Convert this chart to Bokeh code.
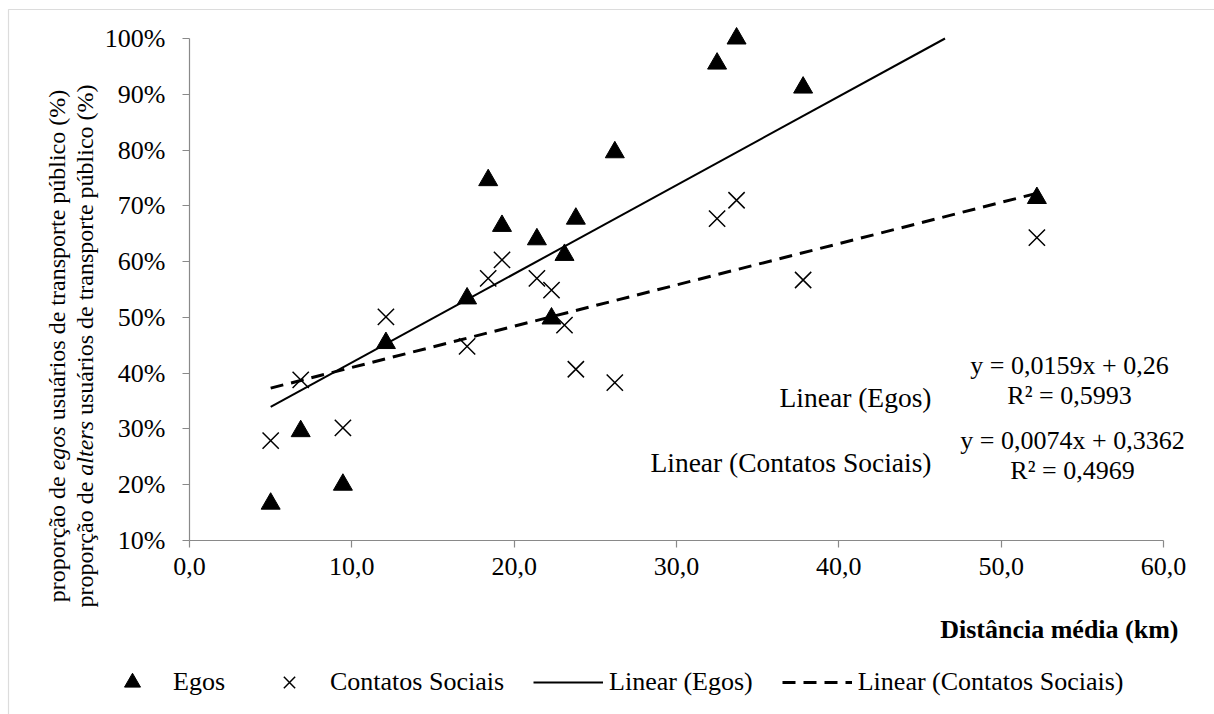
import math
from bokeh.plotting import figure
from bokeh.models import Range1d, FixedTicker, Label, Legend, LegendItem, BoxAnnotation
from bokeh.embed import file_html
from bokeh.resources import INLINE

# ---------------- data ----------------
distancia = [5.0, 6.85, 9.45, 12.1, 17.1, 18.4, 19.25, 21.4, 22.3, 23.1, 23.8, 26.2, 32.5, 33.7, 37.8, 52.2]
egos = [16.6, 29.6, 20.0, 45.4, 53.4, 74.6, 66.4, 64.0, 49.8, 61.2, 67.7, 79.6, 95.5, 100.0, 91.2, 71.4]
contatos = [27.9, 38.8, 30.2, 50.1, 44.8, 57.0, 60.3, 57.0, 54.9, 48.6, 40.7, 38.3, 67.7, 71.0, 56.7, 64.3]

series_names = ["Egos", "Contatos Sociais"]
trend_names = ["Linear (Egos)", "Linear (Contatos Sociais)"]
trend_slopes = [0.0159, 0.0074]
trend_intercepts = [0.26, 0.3362]
trend_r2 = [0.5993, 0.4969]

x_ticks = [0, 10, 20, 30, 40, 50, 60]
x_tick_labels = ["0,0", "10,0", "20,0", "30,0", "40,0", "50,0", "60,0"]
y_ticks = [10, 20, 30, 40, 50, 60, 70, 80, 90, 100]
y_tick_labels = ["10%", "20%", "30%", "40%", "50%", "60%", "70%", "80%", "90%", "100%"]

x_title = "Distância média (km)"
y_title_lines = [("proporção de", "egos", "usuários de transporte público (%)"),
                 ("proporção de", "alters", "usuários de transporte público (%)")]

# ---------------- layout ----------------
W, H = 1214, 714
# plot-area (axes box) position on the canvas, in pixels
FL, FT, FW, FH = 189, 38, 974, 502
X0, X1 = 0, 60
Y0, Y1 = 10, 100
FONT = "Liberation Serif"
AXIS_GRAY = "#898989"


def dx(cx):
    return X0 + (cx - FL) / FW * (X1 - X0)


def dy(cy):
    return Y1 - (cy - FT) / FH * (Y1 - Y0)


# the frame covers the whole canvas so that nothing is clipped;
# the axes are pinned at x=0 / y=10% and bounded to the data extent
p = figure(width=W, height=H, x_range=Range1d(dx(0), dx(W)), y_range=Range1d(dy(H), dy(0)),
           output_backend="svg", toolbar_location=None,
           min_border_left=0, min_border_top=0, min_border_right=0, min_border_bottom=0)
p.outline_line_color = None
p.xgrid.visible = False
p.ygrid.visible = False
p.background_fill_color = "white"
p.border_fill_color = "white"

for ax in (p.xaxis[0], p.yaxis[0]):
    ax.axis_line_color = AXIS_GRAY
    ax.axis_line_width = 1.2
    ax.major_tick_line_color = AXIS_GRAY
    ax.major_tick_line_width = 1.2
    ax.major_tick_in = 0
    ax.major_tick_out = 7
    ax.minor_tick_line_color = None
    ax.major_label_text_font = FONT
    ax.major_label_text_font_size = "26px"
    ax.major_label_text_color = "black"

p.xaxis[0].ticker = FixedTicker(ticks=x_ticks)
p.xaxis[0].major_label_overrides = {t: l for t, l in zip(x_ticks, x_tick_labels)}
p.xaxis[0].major_label_standoff = 10
p.xaxis[0].fixed_location = Y0
p.xaxis[0].bounds = (X0, X1)
p.yaxis[0].ticker = FixedTicker(ticks=y_ticks)
p.yaxis[0].major_label_overrides = {t: l for t, l in zip(y_ticks, y_tick_labels)}
p.yaxis[0].major_label_standoff = 17
p.yaxis[0].fixed_location = X0
p.yaxis[0].bounds = (Y0, Y1)

# outer chart-area border
p.add_layout(BoxAnnotation(left=dx(8), right=dx(W + 200), top=dy(9), bottom=dy(H + 200),
                           fill_alpha=0, line_color="#8c8c8c", line_width=1.2))

# ---------------- marks ----------------
r_egos = p.scatter(distancia, egos, marker="triangle", size=19,
                   fill_color="black", line_color="black")
r_cont = p.scatter(distancia, contatos, marker="x", size=23,
                   line_color="black", line_width=1.5)

r_trend = []
dashes = ["solid", "13 8"]
widths = [2, 3]
for s, b, d, w in zip(trend_slopes, trend_intercepts, dashes, widths):
    x_start = min(distancia)
    # trendline spans the data, cut where it leaves the plot area at 100%
    x_end = min(max(distancia), (Y1 / 100 - b) / s)
    xl = [x_start, x_end]
    yl = [100 * (s * x + b) for x in xl]
    r_trend.append(p.line(xl, yl, line_color="black", line_width=w, line_dash=d))

# trendline labels and equations
label_cy = [396.7, 461.7]
eq_cy = [(365, 395), (440, 470)]
eq_cx = [1069, 1072]
for i in range(2):
    p.add_layout(Label(x=dx(931), y=dy(label_cy[i]), text=trend_names[i],
                       text_align="right", text_baseline="middle",
                       text_font=FONT, text_font_size="27.5px", text_color="black"))
    eq = "y = %sx + %s" % (str(trend_slopes[i]).replace(".", ","),
                            str(trend_intercepts[i]).replace(".", ","))
    r2 = "R² = %s" % str(trend_r2[i]).replace(".", ",")
    p.add_layout(Label(x=dx(eq_cx[i]), y=dy(eq_cy[i][0]), text=eq,
                       text_align="center", text_baseline="middle",
                       text_font=FONT, text_font_size="26px", text_color="black"))
    p.add_layout(Label(x=dx(eq_cx[i]), y=dy(eq_cy[i][1]), text=r2,
                       text_align="center", text_baseline="middle",
                       text_font=FONT, text_font_size="26px", text_color="black"))

# x axis title (right aligned, bold)
p.add_layout(Label(x=dx(1178), y=dy(629), text=x_title, text_align="right",
                   text_baseline="middle", text_font=FONT, text_font_size="26px",
                   text_font_style="bold", text_color="black"))

# y axis title: two rotated lines with italic words
TS = 24
w_first = 5.248  # "proporção de" in em (Times metrics)
w_space = 0.25
w_ital = {"egos": 1.833, "alters": 2.278}
line_cx = [56, 84]
line_len = [21.356, 21.801]
center_cy = 345.5
for i, (a, it, c) in enumerate(y_title_lines):
    start = center_cy + line_len[i] * TS / 2
    offs = [0, (w_first + w_space) * TS, (w_first + w_space + w_ital[it] + w_space) * TS]
    for txt, off, style in zip((a, it, c), offs, ("normal", "italic", "normal")):
        p.add_layout(Label(x=dx(line_cx[i]), y=dy(start - off), text=txt,
                           angle=math.pi / 2, text_align="left", text_baseline="middle",
                           text_font=FONT, text_font_size="%dpx" % TS,
                           text_font_style=style, text_color="black"))

# legend
legend = Legend(items=[LegendItem(label=series_names[0], renderers=[r_egos]),
                       LegendItem(label=series_names[1], renderers=[r_cont]),
                       LegendItem(label=trend_names[0], renderers=[r_trend[0]]),
                       LegendItem(label=trend_names[1], renderers=[r_trend[1]])],
                location=(97, H - 702), orientation="horizontal",
                glyph_width=70, glyph_height=40, label_standoff=6, spacing=29,
                padding=0, margin=0, border_line_color=None, background_fill_alpha=0,
                label_text_font=FONT, label_text_font_size="26px",
                label_text_color="black")
p.add_layout(legend)

open("out.html", "w").write(file_html(p, INLINE))
